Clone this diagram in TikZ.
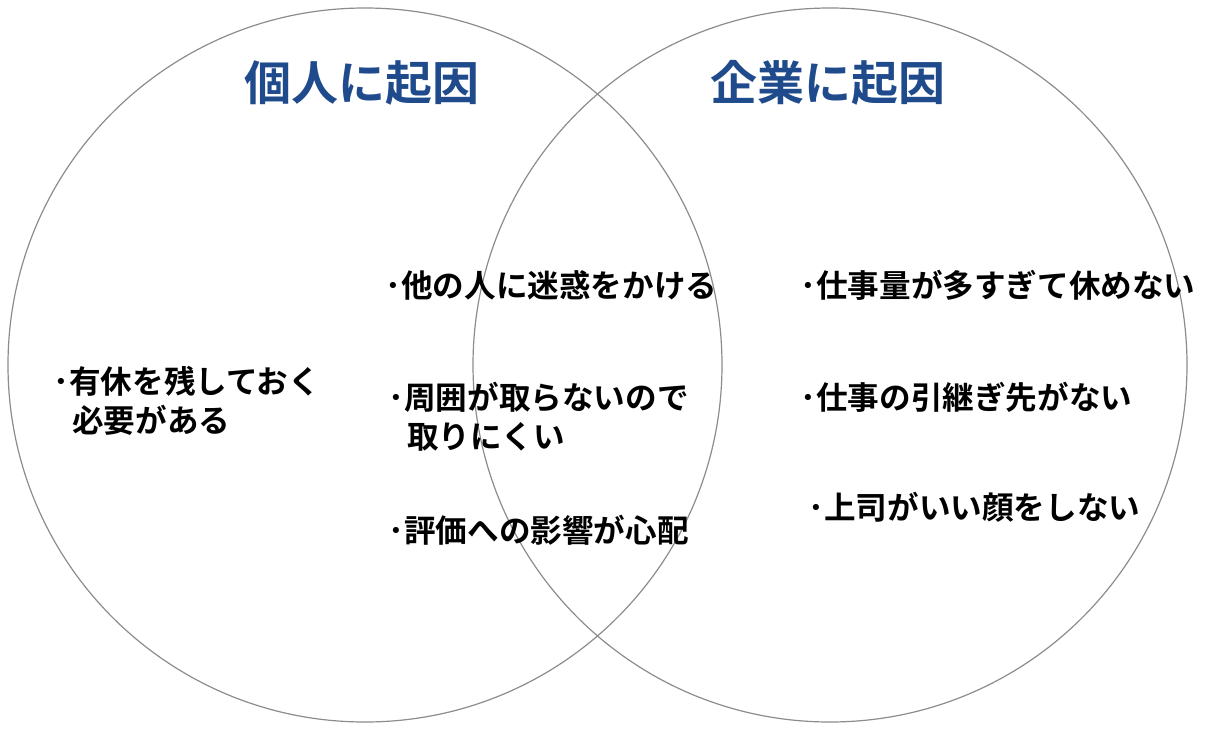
\documentclass[tikz,border=0pt]{standalone}
\usepackage{fontspec}
\newfontfamily\jp{Noto Sans CJK JP Bold}
\definecolor{titleblue}{RGB}{31,75,140}
\tikzset{
  venn/.style={draw=black!45,line width=0.6pt},
  cause/.style={font=\jp\fontsize{23.5pt}{28pt}\selectfont,text=titleblue,inner sep=0pt},
  item/.style={font=\jp\fontsize{15.8pt}{19.5pt}\selectfont,anchor=west,align=left,inner sep=0pt}
}
\begin{document}
\begin{tikzpicture}[x=0.5pt,y=-0.5pt]
\useasboundingbox (0,0) rectangle (1209,728);
\draw [venn] (365,365) circle [radius=178.5pt];
\draw [venn] (830,365) circle [radius=178.5pt];
\node [cause] (kojin) at (362,83) {個人に起因};
\node [cause] (kigyo) at (828,83) {企業に起因};
% individual side
\node [item] (yukyu) at (53,401) {･有休を残しておく\\\hspace*{0.6em}必要がある};
% overlap
\node [item] (meiwaku) at (385,285) {･他の人に迷惑をかける};
\node [item] (shui) at (388,417) {･周囲が取らないので\\\hspace*{0.6em}取りにくい};
\node [item] (hyoka) at (388,530) {･評価への影響が心配};
% company side
\node [item] (ryo) at (800,285) {･仕事量が多すぎて休めない};
\node [item] (hikitsugi) at (800,397) {･仕事の引継ぎ先がない};
\node [item] (joshi) at (808,507) {･上司がいい顔をしない};
\end{tikzpicture}
\end{document}
